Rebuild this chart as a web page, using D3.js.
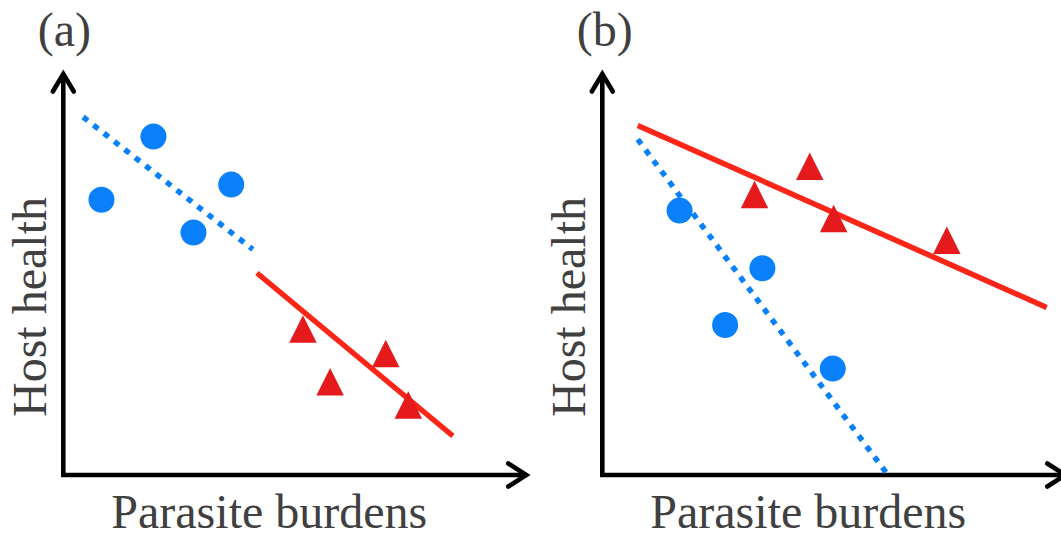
<!DOCTYPE html>
<html>
<head>
<meta charset="utf-8">
<script src="https://cdn.jsdelivr.net/npm/d3@7"></script>
<style>
  html, body { margin: 0; padding: 0; background: #fff; }
  svg { display: block; }
  text { font-family: "Liberation Serif", "Times New Roman", serif; fill: #404040; }
</style>
</head>
<body>
<svg id="chart" width="1061" height="538"></svg>
<script>
// Panel labels and axis titles
const panelLabels = ["(a)", "(b)"];
const xTitle = "Parasite burdens";
const yTitle = "Host health";

// Panel (a): blue circles, red triangles, and their fitted lines
const aCircles = [[19.6, 84.6], [8.3, 68.8], [36.5, 72.6], [28.3, 60.6]];
const aTriangles = [[52.1, 36.5], [58.0, 23.3], [70.1, 30.4], [75.0, 17.5]];
const aBlueFit = [[4.3, 89.5], [41.2, 56.4]];
const aRedFit = [[42.1, 50.5], [84.7, 9.75]];

// Panel (b)
const bCircles = [[16.8, 66.1], [34.8, 51.7], [26.7, 37.5], [50.1, 26.6]];
const bTriangles = [[33.1, 70.1], [45.1, 77.2], [50.3, 64.1], [74.9, 58.7]];
const bBlueFit = [[7.7, 83.9], [62.1, 0]];
const bRedFit = [[7.7, 87.4], [96.6, 41.9]];

const panels = [
  { label: panelLabels[0], left: 63.3, circles: aCircles, triangles: aTriangles, blueFit: aBlueFit, redFit: aRedFit },
  { label: panelLabels[1], left: 602.3, circles: bCircles, triangles: bTriangles, blueFit: bBlueFit, redFit: bRedFit }
];

const BLUE = "#0a80fa";
const RED_LINE = "#fc2618";
const RED_MARK = "#e41a1c";
const AXIS_Y0 = 475;     // baseline of the x axis
const AXIS_TOP = 72.5;   // tip of the y axis arrow
const AXIS_LEN = 464.5;  // length of the x axis to the arrow tip

const svg = d3.select("#chart");

panels.forEach(p => {
  const x = d3.scaleLinear().domain([0, 100]).range([p.left, p.left + 460]);
  const y = d3.scaleLinear().domain([0, 100]).range([AXIS_Y0, AXIS_Y0 - 400]);
  const g = svg.append("g");

  // Axes with chevron arrowheads
  g.append("line")
    .attr("x1", p.left).attr("y1", AXIS_Y0 + 2)
    .attr("x2", p.left).attr("y2", AXIS_TOP + 1)
    .attr("stroke", "#000").attr("stroke-width", 4.6);
  g.append("line")
    .attr("x1", p.left - 2.3).attr("y1", AXIS_Y0)
    .attr("x2", p.left + AXIS_LEN - 1).attr("y2", AXIS_Y0)
    .attr("stroke", "#000").attr("stroke-width", 4.6);
  const chev = d3.line();
  g.append("path")
    .attr("d", chev([[p.left - 10.5, AXIS_TOP + 19], [p.left, AXIS_TOP + 1.5], [p.left + 10.5, AXIS_TOP + 19]]))
    .attr("fill", "none").attr("stroke", "#000").attr("stroke-width", 4.6)
    .attr("stroke-linecap", "round").attr("stroke-linejoin", "miter");
  const tipX = p.left + AXIS_LEN - 1.5;
  g.append("path")
    .attr("d", chev([[tipX - 18, AXIS_Y0 - 11.5], [tipX, AXIS_Y0], [tipX - 18, AXIS_Y0 + 11.5]]))
    .attr("fill", "none").attr("stroke", "#000").attr("stroke-width", 4.6)
    .attr("stroke-linecap", "round").attr("stroke-linejoin", "miter");

  // Fitted lines
  const line = d3.line().x(d => x(d[0])).y(d => y(d[1]));
  g.append("path")
    .attr("d", line(p.blueFit))
    .attr("fill", "none").attr("stroke", BLUE)
    .attr("stroke-width", 5.5).attr("stroke-dasharray", "6 7.2");
  g.append("path")
    .attr("d", line(p.redFit))
    .attr("fill", "none").attr("stroke", RED_LINE).attr("stroke-width", 5.5);

  // Circles
  g.selectAll("circle.pt").data(p.circles).join("circle")
    .attr("class", "pt")
    .attr("cx", d => x(d[0])).attr("cy", d => y(d[1]))
    .attr("r", 13).attr("fill", BLUE);

  // Triangles
  const tw = 27.5, th = 27.5;
  g.selectAll("path.tri").data(p.triangles).join("path")
    .attr("class", "tri")
    .attr("d", d => {
      const cx = x(d[0]), cy = y(d[1]);
      return `M${cx},${cy - th / 2}L${cx + tw / 2},${cy + th / 2}L${cx - tw / 2},${cy + th / 2}Z`;
    })
    .attr("fill", RED_MARK);

  // Text
  g.append("text")
    .attr("x", p.left - 25.5).attr("y", 46)
    .attr("font-size", 48)
    .text(p.label);
  g.append("text")
    .attr("transform", `translate(${p.left - 17},${307}) rotate(-90)`)
    .attr("text-anchor", "middle")
    .attr("font-size", 48)
    .text(yTitle);
  g.append("text")
    .attr("x", p.left + 206).attr("y", 528)
    .attr("text-anchor", "middle")
    .attr("font-size", 48)
    .text(xTitle);
});
</script>
</body>
</html>
